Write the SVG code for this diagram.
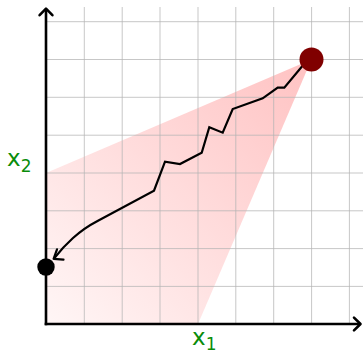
<svg xmlns="http://www.w3.org/2000/svg" width="363" height="354" viewBox="0 0 363 354">
  <defs>
    <linearGradient id="shade" gradientUnits="userSpaceOnUse" x1="46" y1="324" x2="311" y2="60">
      <stop offset="0" stop-color="#fff6f6"/>
      <stop offset="1" stop-color="#ffc2c2"/>
    </linearGradient>
    <style>
      .grid { stroke: #b4b4b4; stroke-width: 1; stroke-opacity: 0.75; fill: none; }
      .axis { stroke: #000; stroke-width: 2.6; fill: none; stroke-linecap: butt; }
      .head { stroke: #000; fill: none; stroke-linecap: round; stroke-linejoin: round; }
      .lbl { font-family: "DejaVu Sans", "Liberation Sans", sans-serif; fill: #0a8c0a; }
      .path { stroke: #000; stroke-width: 2.2; fill: none; stroke-linejoin: miter; }
    </style>
  </defs>
  <rect width="363" height="354" fill="#ffffff"/>
  <g id="region">
    <polygon points="311.5,59.5 46,173 46,324 198,324" fill="url(#shade)"/>
  </g>
  <g id="grid" class="grid">
    <path d="M84.3 7V324M122.2 7V324M160 7V324M198 7V324M235.8 7V324M273.7 7V324M311.6 7V324M349.4 7V324"/>
    <path d="M46 21.7H363M46 59.5H363M46 97.3H363M46 135.2H363M46 173H363M46 210.8H363M46 248.6H363M46 286.4H363"/>
  </g>
  <g id="axes">
    <path class="axis" d="M46 325.3V9.5"/>
    <path class="axis" d="M44.7 324H359.5"/>
    <path class="head" stroke-width="2.6" d="M39.6 15.2L46 8.6L52.4 15.2"/>
    <path class="head" stroke-width="2.6" d="M354 317.6L360.5 324L354 330.4"/>
  </g>
  <g id="labels">
    <text id="label-x2" class="lbl" x="7" y="166" font-size="23">x<tspan font-size="17" dy="6">2</tspan></text>
    <text id="label-x1" class="lbl" x="192" y="345" font-size="23">x<tspan font-size="17" dy="5">1</tspan></text>
  </g>
  <g id="connectors">
    <path class="path" d="M311.5 59.5L301.7 66.7L284.3 87.7L277.7 87.7L262.7 98.3L232.7 109L222.7 132.7L209.3 127.3L201.7 152.7L180 164L165 161.7L154 190.7L98 220.7Q84 228 73 238Q63 247 54.2 258.2"/>
    <path class="head" stroke-width="2.2" d="M57 249.3L53.6 258.8L63.5 259.6"/>
  </g>
  <g id="node-start">
    <circle cx="311.5" cy="59.5" r="12" fill="#800000"/>
  </g>
  <g id="node-end">
    <circle cx="46" cy="267" r="8.7" fill="#000"/>
  </g>
</svg>
